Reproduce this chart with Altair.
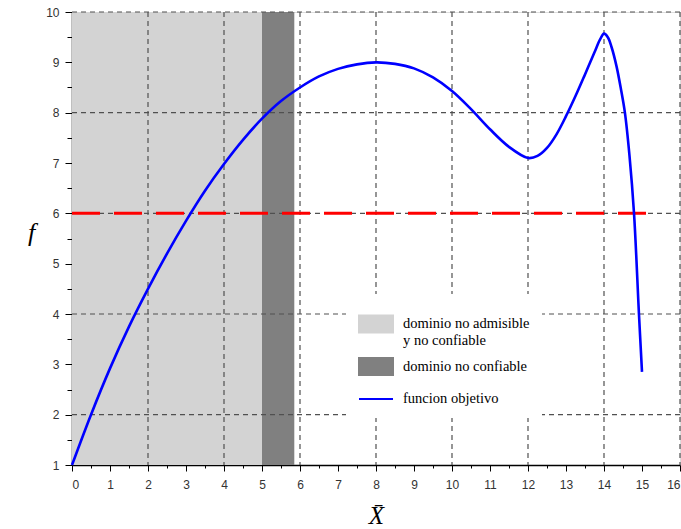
import altair as alt
import pandas as pd

# ---- data ----
x_vals = [0, 0.5, 1, 1.5, 2, 2.5, 3, 3.5, 4, 4.5, 5, 5.5, 6, 6.5, 7, 7.5, 8, 8.5, 9, 9.5,
          10, 10.5, 11, 11.5, 12, 12.25, 12.5, 12.75, 13, 13.25, 13.5, 13.75, 13.9, 14.0,
          14.1, 14.2, 14.33, 14.45, 14.55, 14.67, 14.79, 14.92, 15.0]
f_vals = [1.0, 2.0, 2.92, 3.75, 4.5, 5.2, 5.85, 6.45, 6.98, 7.46, 7.88, 8.23, 8.5, 8.72,
          8.87, 8.96, 9.0, 8.97, 8.88, 8.7, 8.43, 8.07, 7.67, 7.32, 7.1, 7.14, 7.3, 7.57,
          7.93, 8.33, 8.76, 9.2, 9.46, 9.57, 9.5, 9.3, 8.92, 8.45, 8.0, 7.15, 6.0, 4.0, 2.85]

region_labels = ["dominio no admisible y no confiable", "dominio no confiable"]
region_x0 = [0, 5]
region_x1 = [5, 5.85]
region_colors = ["#d3d3d3", "#808080"]
y_low, y_high = 1, 10

grid_x = [2, 4, 6, 8, 10, 12, 14, 16]
grid_y = [2, 4, 6, 8, 10]

threshold_y = 6
threshold_x0, threshold_x1 = 0, 15.2

major_x = list(range(0, 17))
minor_x = [i + 0.5 for i in range(16)]
major_y = list(range(1, 11))
minor_y = [i + 0.5 for i in range(1, 10)]

line_label = "funcion objetivo"
line_color = "#0000ff"

# ---- tables ----
curve = pd.DataFrame({"x": x_vals, "f": f_vals, "item": line_label})
regions = pd.DataFrame({"item": region_labels, "x0": region_x0, "x1": region_x1,
                        "y0": y_low, "y1": y_high})
gx = pd.DataFrame({"gx": grid_x})
gy = pd.DataFrame({"gy": grid_y})
thr = pd.DataFrame({"x0": [threshold_x0], "x1": [threshold_x1], "y": [threshold_y]})

xscale = alt.Scale(domain=[0, 16], nice=False, zero=False)
yscale = alt.Scale(domain=[1, 10], nice=False, zero=False)
cscale = alt.Scale(domain=region_labels + [line_label], range=region_colors + [line_color])

lab = dict(labelFont="Liberation Sans", labelFontSize=12, labelColor="#333333",
           tickColor="#000000", domainColor="#000000")

x_major = alt.Axis(values=major_x, orient="bottom", grid=False, tickSize=6, tickWidth=1,
                   domainWidth=1.5, labelPadding=8, title="X\u0304",
                   titleFont="Liberation Serif", titleFontStyle="italic", titleFontSize=25,
                   titleFontWeight="normal", titleColor="#000000", titleBaseline="middle",
                   titleY=50, titleX=304, **lab)
y_major = alt.Axis(values=major_y, orient="left", grid=False, tickSize=7, tickWidth=1,
                   domainWidth=1.5, labelPadding=6, title="f",
                   titleFont="Liberation Serif", titleFontStyle="italic", titleFontSize=26,
                   titleFontWeight="normal", titleColor="#000000", titleAngle=0,
                   titleBaseline="middle", titleAlign="center", titleX=-41, titleY=220, **lab)
x_minor = alt.Axis(values=minor_x, orient="bottom", grid=False, labels=False, domain=False,
                   tickSize=3, tickColor="#000000", title=None)
y_minor = alt.Axis(values=minor_y, orient="left", grid=False, labels=False, domain=False,
                   tickSize=5, tickColor="#000000", title=None)

is_line = f"datum.value === '{line_label}'"
legend = alt.Legend(
    orient="none", legendX=274, legendY=282, title=None, padding=12, fillColor="white",
    symbolType=alt.ExprRef(expr=f"{is_line} ? 'M-1,0H1M-1,-0.09' : 'M-1,-0.5H1V0.5H-1Z'"),
    symbolFillColor=alt.ExprRef(expr=f"{is_line} ? 'transparent' : scale('color', datum.value)"),
    symbolStrokeColor=alt.ExprRef(expr=f"{is_line} ? scale('color', datum.value) : 'transparent'"),
    symbolSize=1156, symbolStrokeWidth=2,
    symbolOpacity=1, labelOffset=9, rowPadding=1.5, labelFont="Liberation Serif",
    labelFontSize=14.5, labelColor="#000000",
    labelExpr=("datum.label == 'dominio no admisible y no confiable' ? "
               "['dominio no admisible', 'y no confiable'] : datum.label"),
)

rects = alt.Chart(regions).mark_rect(opacity=1).encode(
    x=alt.X("x0:Q", scale=xscale, axis=x_major),
    x2="x1:Q",
    y=alt.Y("y0:Q", scale=yscale, axis=y_major),
    y2="y1:Q",
    color=alt.Color("item:N", scale=cscale, legend=legend),
)

vgrid = alt.Chart(gx).mark_rule(color="#505050", strokeDash=[5, 4], strokeWidth=1.2).encode(
    x=alt.X("gx:Q", scale=xscale, axis=x_minor)
)
hgrid = alt.Chart(gy).mark_rule(color="#505050", strokeDash=[5, 4], strokeWidth=1.2).encode(
    y=alt.Y("gy:Q", scale=yscale, axis=y_minor)
)
red = alt.Chart(thr).mark_rule(color="#ff0000", strokeDash=[28, 14], strokeWidth=3).encode(
    x=alt.X("x0:Q", scale=xscale, axis=None),
    x2="x1:Q",
    y=alt.Y("y:Q", scale=yscale, axis=None),
)
line = alt.Chart(curve).mark_line(strokeWidth=2.6, interpolate="catmull-rom").encode(
    x=alt.X("x:Q", scale=xscale, axis=None),
    y=alt.Y("f:Q", scale=yscale, axis=None),
    color=alt.Color("item:N", scale=cscale, legend=legend),
)

chart = alt.layer(rects, vgrid, hgrid, red, line).resolve_axis(
    x="independent", y="independent"
).properties(
    width=608, height=453,
    autosize=alt.AutoSizeParams(type="none"),
    padding={"left": 72, "top": 12, "right": 1, "bottom": 64},
).configure_view(stroke=None).configure(background="white")

chart.save("out.html", embed_options={"renderer": "svg", "actions": False})
